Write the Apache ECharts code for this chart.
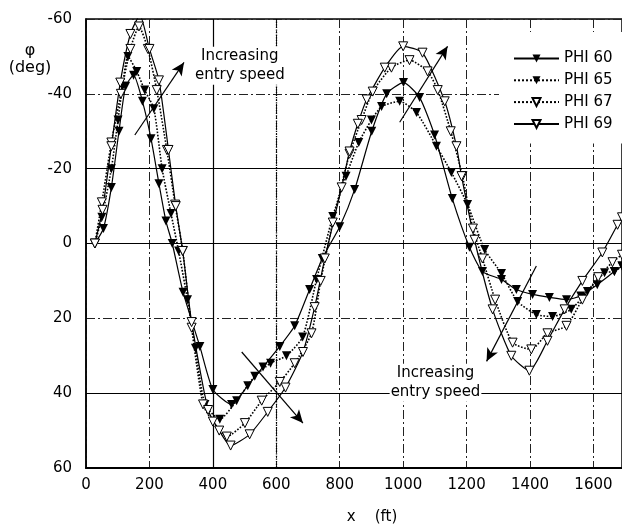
<!DOCTYPE html>
<html><head><meta charset="utf-8">
<script src="https://cdn.jsdelivr.net/npm/echarts@6/dist/echarts.min.js"></script>
<style>html,body{margin:0;padding:0;background:#fff}#c{width:622px;height:529px}</style>
</head><body><div id="c"></div>
<script>
// ---- data ----
const seriesNames = ['PHI 60', 'PHI 65', 'PHI 67', 'PHI 69'];
const xTicks = [0, 200, 400, 600, 800, 1000, 1200, 1400, 1600];
const yTicks = [-60, -40, -20, 0, 20, 40, 60];

const phi60X = [28,55,80,104,125,150,178,205,230,252,272,306,359,400,459,510,558,611,658,705,745,800,847,901,948,1001,1052,1099,1155,1209,1250,1310,1357,1408,1461,1515,1560,1612,1666,1690];
const phi60Y = [0,-4,-15,-30,-42,-45,-38,-28,-16,-6,0,13,27.5,39,43,38,33,27.5,22,12.3,4,-4.5,-14.4,-30,-40,-43,-39,-29,-12,1,7.5,9.6,12.3,13.6,14.4,15,14,11,7.5,6];

const phi65X = [28,50,80,101,115,132,160,185,214,240,268,292,320,345,375,422,475,532,582,632,683,727,778,820,860,900,932,989,1042,1105,1152,1203,1257,1310,1361,1420,1471,1530,1581,1635,1666,1690];
const phi65Y = [0,-7,-20,-33,-42,-50,-46,-41,-36,-20,-8,2,15,28,43,47,42,35.5,32,30,25,9.6,-7.2,-18,-27,-33,-36.6,-38,-35,-26,-19,-10.4,1.6,8,15.5,19,19.5,17.6,12.8,7.8,7.5,6];

const phi67X = [28,50,80,110,140,167,195,223,255,281,305,333,369,400,444,501,554,611,658,711,740,778,831,869,904,963,1020,1077,1109,1150,1187,1220,1250,1290,1345,1404,1455,1515,1565,1615,1660,1690];
const phi67Y = [0,-11,-27,-40,-52,-58,-52,-41,-25,-10.4,2,22.5,43,47.6,51.6,48,42,37,32,24,10,-5.6,-24,-33,-40.6,-47,-49,-46,-41,-30,-18,-4,4,15,26.5,28.3,24,22,15,9,5,3];

const phi69X = [28,52,80,108,140,170,200,230,260,283,305,333,385,420,456,516,573,629,684,721,753,806,831,857,885,942,1000,1061,1131,1168,1184,1225,1282,1341,1398,1455,1509,1565,1628,1676,1690];
const phi69Y = [0,-9,-26,-43,-56,-61,-52,-43.6,-25,-10,2,21,44.5,50,54,51,45,38.5,29,17,4,-15,-24.6,-32,-38.5,-47,-52.7,-51,-38,-26,-18,-1,17.6,30,34,26,17.6,10,2.4,-5,-7];

// annotation anchor points (data units)
const arrowsFrom = [[154,-29],[989,-32.4],[491,29],[1420,6]];
const arrowsTo   = [[309,-48.4],[1140,-52.7],[684,48],[1263,31.5]];
const noteText = 'Increasing\nentry speed';
const notePos = [[485,-47.5],[1102,37.2]];
const solidGridY = [-20, 0, 40];
const solidGridX = [400];
const dottedGridX = [600];

// ---- build ----
const FONT = "'DejaVu Sans', 'Liberation Sans', sans-serif";
const zip = (xs, ys) => xs.map((x, i) => [x, ys[i]]);
const filled = { color: '#000' };
const open = { color: '#fff', borderColor: '#000', borderWidth: 1 };

function curve(name, xs, ys, dotted, isOpen) {
  return {
    name, type: 'line', data: zip(xs, ys), z: 5,
    symbol: 'triangle', symbolRotate: 180, symbolSize: 9, showAllSymbol: true,
    smooth: 0.2,
    lineStyle: { color: '#000', width: dotted ? 1.6 : 1.2, type: dotted ? 'dotted' : 'solid' },
    itemStyle: isOpen ? open : filled,
    animation: false
  };
}

const markLineData = [];
solidGridY.forEach(v => markLineData.push({ yAxis: v }));
solidGridX.forEach(v => markLineData.push({ xAxis: v }));
dottedGridX.forEach(v => markLineData.push({ xAxis: v, lineStyle: { type: 'dotted', width: 1.3 } }));
arrowsFrom.forEach((f, i) => markLineData.push([
  { coord: f, symbol: 'none' },
  { coord: arrowsTo[i], symbol: 'arrow', symbolSize: [9, 13] }
]));

const helper = {
  name: 'helper', type: 'line', data: [], z: 2, silent: true, animation: false,
  markLine: {
    silent: true, animation: false, symbol: ['none', 'none'],
    label: { show: false },
    lineStyle: { color: '#000', type: 'solid', width: 1.2 },
    data: markLineData
  },
  markPoint: {
    silent: true, animation: false, symbol: 'rect', symbolSize: 0,
    label: {
      show: true, position: 'inside', formatter: noteText, color: '#000',
      fontFamily: FONT, fontSize: 15, lineHeight: 19, align: 'center',
      backgroundColor: '#fff', padding: [0, 1]
    },
    data: notePos.map(p => ({ coord: p }))
  }
};

const chart = echarts.init(document.getElementById('c'), null, { renderer: 'canvas' });
const gridLine = { show: true, lineStyle: { color: '#222', width: 1, type: [9, 3, 2, 3] } };
chart.setOption({
  animation: false,
  backgroundColor: '#fff',
  grid: { left: 86, right: -2, top: 19, bottom: 61, show: true, borderColor: '#000', borderWidth: 1.5 },
  xAxis: {
    type: 'value', min: 0, max: 1690, interval: 200,
    axisLine: { show: true, onZero: false, lineStyle: { color: '#000', width: 2 } },
    axisTick: { show: false },
    axisLabel: { color: '#000', fontSize: 15, fontFamily: FONT, margin: 10, showMaxLabel: false,
      formatter: v => xTicks.includes(v) ? String(v) : '' },
    splitLine: gridLine
  },
  yAxis: {
    type: 'value', inverse: true, min: -60, max: 60, interval: 20,
    axisLine: { show: true, onZero: false, lineStyle: { color: '#000', width: 1.5 } },
    axisTick: { show: false },
    axisLabel: { color: '#000', fontSize: 15, fontFamily: FONT, margin: 14,
      formatter: v => yTicks.includes(v) ? String(v) : '' },
    splitLine: gridLine
  },
  legend: {
    data: seriesNames, orient: 'vertical', left: 499, top: 32,
    itemWidth: 45, itemHeight: 10, itemGap: 6.8, padding: [19, 12, 12, 14],
    textStyle: { color: '#000', fontSize: 15, fontFamily: FONT },
    backgroundColor: '#fff'
  },
  graphic: [
    { type: 'text', x: 30, y: 42, style: { text: 'φ\n(deg)', textAlign: 'center', textVerticalAlign: 'top',
      font: "16px 'DejaVu Sans'", lineHeight: 17, fill: '#000' } },
    { type: 'text', x: 372, y: 517, style: { text: 'x    (ft)', textAlign: 'center', textVerticalAlign: 'middle',
      font: "15px 'DejaVu Sans'", fill: '#000' } }
  ],
  series: [
    helper,
    curve(seriesNames[0], phi60X, phi60Y, false, false),
    curve(seriesNames[1], phi65X, phi65Y, true, false),
    curve(seriesNames[2], phi67X, phi67Y, true, true),
    curve(seriesNames[3], phi69X, phi69Y, false, true)
  ]
});
</script></body></html>
